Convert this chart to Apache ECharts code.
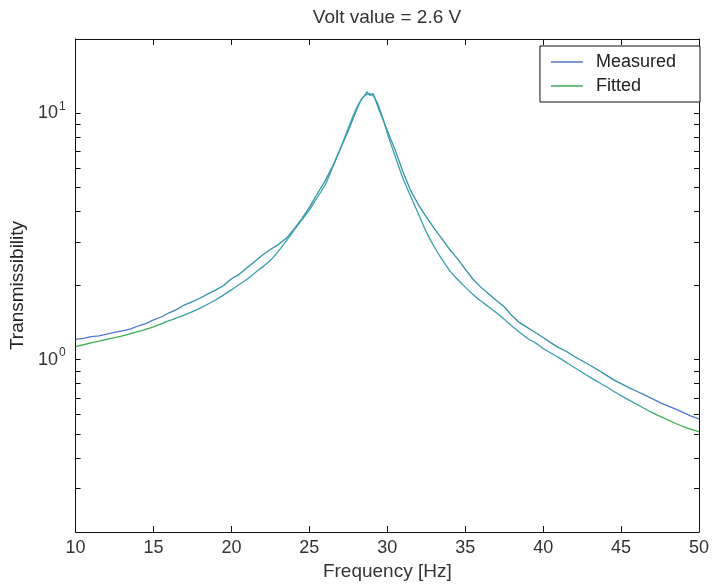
<!DOCTYPE html>
<html>
<head>
<meta charset="utf-8">
<script src="https://cdn.jsdelivr.net/npm/echarts@6/dist/echarts.min.js"></script>
<style>html,body{margin:0;padding:0;background:#fff}#c{width:712px;height:588px}</style>
</head>
<body>
<div id="c"></div>
<script>
var titleText = 'Volt value = 2.6 V';
var xName = 'Frequency [Hz]';
var yName = 'Transmissibility';
var xTicks = [10, 15, 20, 25, 30, 35, 40, 45, 50];
var yLabelValues = [1, 10];
var yTickValues = [0.2, 0.3, 0.4, 0.5, 0.6, 0.7, 0.8, 0.9, 1, 2, 3, 4, 5, 6, 7, 8, 9, 10, 20];

var measuredFreq = [10, 10.5, 11, 11.5, 12, 12.5, 13, 13.5, 14, 14.5, 15, 15.5, 16, 16.5, 17, 17.5, 18, 18.5, 19, 19.5,
  20, 20.5, 21, 21.5, 22, 22.5, 23, 23.5, 24, 24.5, 25, 25.5, 26, 26.5, 27, 27.5, 28, 28.3, 28.5, 28.7, 28.9, 29.1,
  29.5, 30, 30.5, 31, 31.5, 32, 32.5, 33, 33.5, 34, 34.5, 35, 35.5, 36, 36.5, 37, 37.5, 38, 38.5, 39, 39.5,
  40, 40.5, 41, 41.5, 42, 42.5, 43, 43.5, 44, 44.5, 45, 45.5, 46, 46.5, 47, 47.5, 48, 48.5, 49, 49.5, 50];
var measuredValue = [1.21, 1.22, 1.24, 1.25, 1.27, 1.29, 1.31, 1.33, 1.37, 1.40, 1.45, 1.49, 1.55, 1.60, 1.67, 1.72, 1.78, 1.85, 1.92, 2.00,
  2.13, 2.22, 2.36, 2.50, 2.66, 2.80, 2.93, 3.10, 3.38, 3.72, 4.15, 4.70, 5.30, 6.10, 7.20, 8.50, 10.2, 11.3, 11.7, 12.2, 11.8, 12.0,
  10.2, 8.5, 7.1, 5.8, 4.85, 4.25, 3.80, 3.42, 3.10, 2.80, 2.57, 2.33, 2.12, 1.97, 1.85, 1.74, 1.64, 1.51, 1.41, 1.35, 1.29,
  1.23, 1.17, 1.12, 1.08, 1.03, 0.99, 0.95, 0.91, 0.87, 0.83, 0.80, 0.77, 0.745, 0.72, 0.695, 0.67, 0.65, 0.63, 0.61, 0.59, 0.575];

var fittedFreq = [10, 11, 12, 13, 14, 15, 16, 17, 18, 19, 20, 20.5, 21, 21.5, 22, 22.5, 23, 23.5, 24, 24.5, 25, 25.5, 26, 26.5,
  27, 27.5, 28, 28.5, 28.9, 29.3, 29.7, 30, 30.5, 31, 31.5, 32, 32.5, 33, 33.5, 34, 34.5, 35, 35.5, 36, 36.5, 37, 37.5,
  38, 38.5, 39, 39.5, 40, 41, 42, 43, 44, 45, 46, 47, 48, 49, 50];
var fittedValue = [1.13, 1.17, 1.21, 1.25, 1.30, 1.36, 1.44, 1.52, 1.62, 1.75, 1.92, 2.02, 2.12, 2.25, 2.38, 2.53, 2.75, 3.02, 3.34, 3.68, 4.05, 4.55, 5.10, 6.05,
  7.20, 8.70, 10.4, 11.7, 12.0, 11.2, 9.6, 8.3, 6.7, 5.45, 4.6, 3.90, 3.30, 2.88, 2.56, 2.30, 2.12, 1.97, 1.84, 1.73, 1.64, 1.55, 1.46,
  1.37, 1.29, 1.22, 1.17, 1.11, 1.02, 0.93, 0.85, 0.78, 0.715, 0.66, 0.61, 0.57, 0.535, 0.51];

function pairs(xs, ys) { return xs.map(function (x, i) { return [x, ys[i]]; }); }

var FONT = 'Liberation Sans';
var chart = echarts.init(document.getElementById('c'));
function grad(end, mid) {
  return { type: 'linear', x: 0, y: 0, x2: 1, y2: 0,
    colorStops: [{ offset: 0, color: end }, { offset: 0.12, color: end }, { offset: 0.2, color: mid },
      { offset: 0.88, color: mid }, { offset: 0.93, color: end }, { offset: 1, color: end }] };
}
var axisCommon = {
  axisLine: { show: true, lineStyle: { color: '#111', width: 1 } },
  splitLine: { show: false }
};
chart.setOption({
  animation: false,
  backgroundColor: '#fff',
  title: { text: titleText, left: 382, top: 3, textAlign: 'center',
    textStyle: { fontFamily: FONT, fontSize: 19, fontWeight: 'normal', color: '#333' } },
  legend: {
    orient: 'vertical', right: 12, top: 46,
    backgroundColor: '#fff', borderColor: '#111', borderWidth: 1,
    padding: [7, 24, 7, 11], itemGap: 6, itemWidth: 32, itemHeight: 1.5,
    icon: 'rect',
    textStyle: { fontFamily: FONT, fontSize: 18, color: '#222', padding: [0, 0, 0, 8] },
    data: [
      { name: 'Measured', itemStyle: { color: '#4f77cc' } },
      { name: 'Fitted', itemStyle: { color: '#3fae52' } }
    ]
  },
  grid: { left: 73, right: 11, top: 39, bottom: 56 },
  xAxis: [
    Object.assign({ type: 'value', min: 10, max: 50, interval: 5, position: 'bottom',
      name: xName, nameLocation: 'middle', nameGap: 30,
      nameTextStyle: { fontFamily: FONT, fontSize: 19, color: '#333' },
      axisTick: { inside: true, length: 6, lineStyle: { color: '#111' } },
      axisLabel: { fontFamily: FONT, fontSize: 18, color: '#333', margin: 7 } }, axisCommon),
    Object.assign({ type: 'value', min: 10, max: 50, interval: 5, position: 'top',
      axisTick: { inside: true, length: 6, lineStyle: { color: '#111' } },
      axisLabel: { show: false } }, axisCommon)
  ],
  yAxis: [
    Object.assign({ type: 'log', logBase: 10, min: 0.2, max: 20, position: 'left',
      name: yName, nameLocation: 'middle', nameGap: 46, nameRotate: 90,
      nameTextStyle: { fontFamily: FONT, fontSize: 19, color: '#222' },
      axisTick: { inside: true, length: 5, customValues: yTickValues, lineStyle: { color: '#111' } },
      axisLabel: { customValues: yLabelValues, margin: 10, color: '#333',
        formatter: function (v) { return '{b|10}{s|' + Math.round(Math.log10(v)) + '}'; },
        rich: { b: { fontFamily: FONT, fontSize: 18, color: '#333' },
                s: { fontFamily: FONT, fontSize: 12, color: '#333', padding: [0, 0, 14, 1] } } } }, axisCommon),
    Object.assign({ type: 'log', logBase: 10, min: 0.2, max: 20, position: 'right',
      axisTick: { inside: true, length: 5, customValues: yTickValues, lineStyle: { color: '#111' } },
      axisLabel: { show: false } }, axisCommon)
  ],
  series: [
    { name: 'Measured', type: 'line', xAxisIndex: 0, yAxisIndex: 0, data: pairs(measuredFreq, measuredValue),
      symbol: 'none', smooth: false, lineStyle: { width: 1.3, color: grad('#4f77cc', '#2f93a6') },
      itemStyle: { color: '#4f77cc' } },
    { name: 'Fitted', type: 'line', xAxisIndex: 0, yAxisIndex: 0, data: pairs(fittedFreq, fittedValue),
      symbol: 'none', smooth: 0.3, lineStyle: { width: 1.3, color: grad('#3fae52', '#3a9fb0') },
      itemStyle: { color: '#3fae52' } }
  ]
});
</script>
</body>
</html>
